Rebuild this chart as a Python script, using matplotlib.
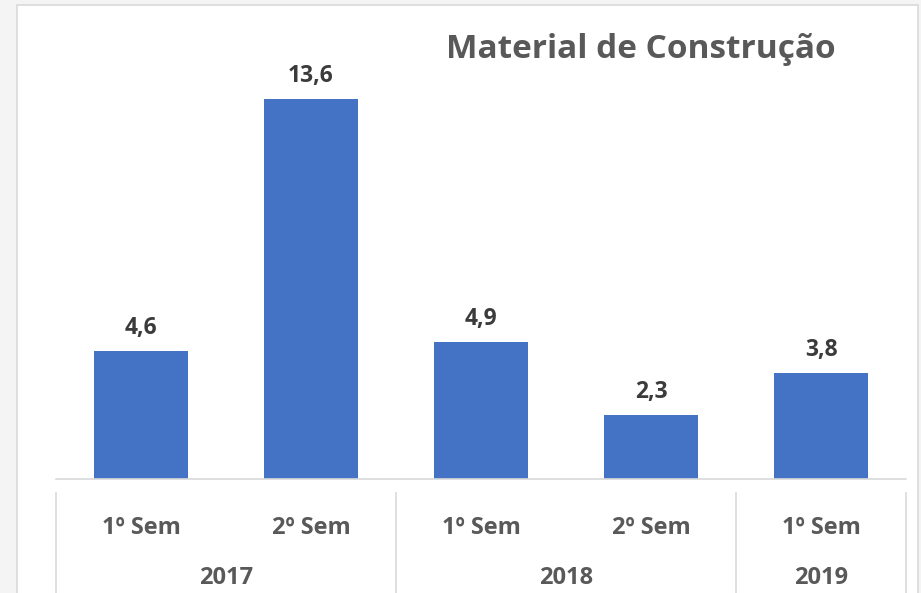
import matplotlib
matplotlib.use("Agg")
import matplotlib.pyplot as plt
from matplotlib.patches import Rectangle
from matplotlib.transforms import blended_transform_factory

semesters = ["1º Sem", "2º Sem", "1º Sem", "2º Sem", "1º Sem"]
years = ["2017", "2018", "2019"]
year_groups = [2, 2, 1]
values = [4.6, 13.6, 4.9, 2.3, 3.8]
value_labels = ["4,6", "13,6", "4,9", "2,3", "3,8"]
title = "Material de Construção"

W, H = 921, 593
fig = plt.figure(figsize=(W / 100, H / 100), dpi=100)
fig.patch.set_facecolor("#f4f4f4")
fig.patches.append(Rectangle((17 / W, -0.1), (918 - 17) / W, (H - 5) / H + 0.1,
                             transform=fig.transFigure, facecolor="white",
                             edgecolor="#d9d9d9", linewidth=1.2, zorder=-5))

ax = fig.add_axes([56 / W, 114 / H, (906 - 56) / W, (479 - 60) / H])
ax.set_facecolor("none")
x = list(range(len(values)))
ax.bar(x, values, width=0.553, color="#4472c4", zorder=2)
ax.set_xlim(-0.5, len(values) - 0.5)
ax.set_ylim(0, 15)
for s in ["top", "right", "left"]:
    ax.spines[s].set_visible(False)
ax.spines["bottom"].set_color("#d9d9d9")
ax.spines["bottom"].set_linewidth(1.2)
ax.set_yticks([])
ax.set_xticks([])

font = "Open Sans"
for xi, v, lab in zip(x, values, value_labels):
    ax.annotate(lab, (xi, v), xytext=(0, 12), textcoords="offset points",
                ha="center", va="baseline", fontsize=16.5, fontweight="bold",
                color="#3b3b3b", family=font)

tr = blended_transform_factory(ax.transData, fig.transFigure)
for xi, s in zip(x, semesters):
    fig.text(xi, 1 - 528 / H, s, transform=tr, ha="center", va="center",
             fontsize=17, fontweight="bold", color="#595959", family=font)

start = 0
bounds = [-0.5]
for yr, n in zip(years, year_groups):
    center = start + (n - 1) / 2
    fig.text(center, 1 - 578 / H, yr, transform=tr, ha="center", va="center",
             fontsize=17, fontweight="bold", color="#595959", family=font)
    start += n
    bounds.append(start - 0.5)
for b in bounds:
    ax.plot([b, b], [1 - 493 / H, 0], transform=tr, color="#d9d9d9",
            linewidth=1.2, clip_on=False)

fig.text(641 / W, 1 - 50 / H, title, ha="center", va="center", fontsize=24,
         fontweight="bold", color="#595959", family=font)

fig.savefig("out.png", dpi=100, facecolor=fig.get_facecolor())
